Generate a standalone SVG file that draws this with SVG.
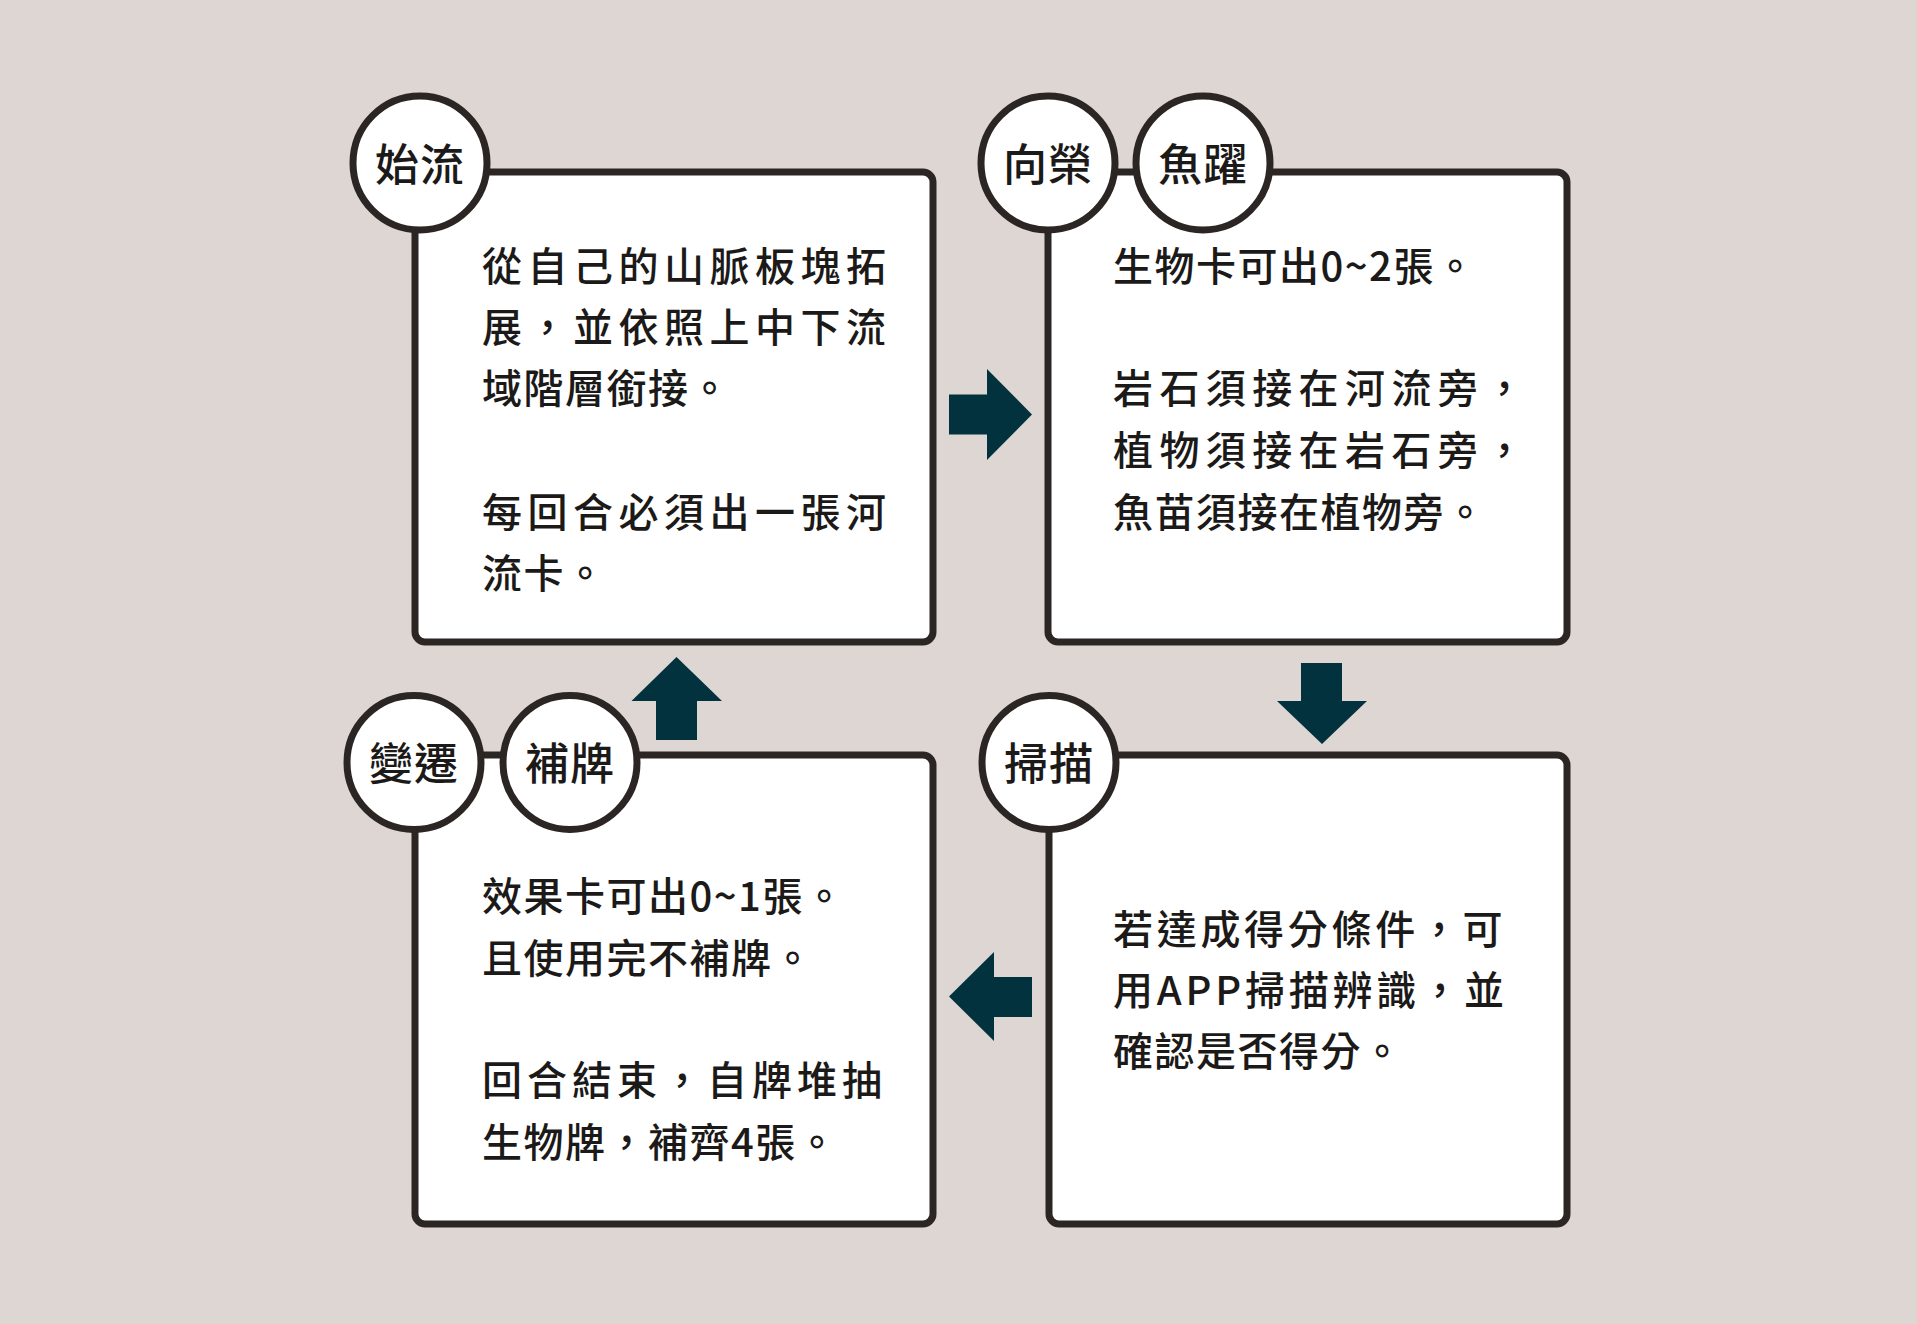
<svg xmlns="http://www.w3.org/2000/svg" width="1917" height="1324" viewBox="0 0 1917 1324">
<style>
.box{fill:#ffffff;stroke:#2b2523;stroke-width:7}
.ring{fill:#ffffff;stroke:#2b2523;stroke-width:7}
.lbl{font-family:"Noto Sans CJK TC","Noto Sans CJK SC",sans-serif;font-size:44px;font-weight:500;fill:#1c1a19;text-anchor:middle;letter-spacing:1px}
.t{font-family:"Noto Sans CJK TC","Noto Sans CJK SC",sans-serif;font-size:40px;font-weight:500;fill:#1c1a19;letter-spacing:1.5px}
.j55{letter-spacing:5.5px}
.j64{letter-spacing:6.4px}
.j50{letter-spacing:5px}
.j37{letter-spacing:3.7px}
.j40{letter-spacing:3.8px}
.arrow{fill:#03323f}
</style>
<rect width="1917" height="1324" fill="#ded6d3"/>
<g id="connectors">
<polygon class="arrow" points="949,394.5 987,394.5 987,369 1032,414.5 987,460 987,434.5 949,434.5"/>
<polygon class="arrow" points="1301,663 1342,663 1342,701 1367,701 1322,744 1277,701 1301,701"/>
<polygon class="arrow" points="1032,977 994,977 994,952 949,996.5 994,1041 994,1017 1032,1017"/>
<polygon class="arrow" points="656,740 697,740 697,701 722,701 676.5,657 631.5,701 656,701"/>
</g>
<g id="node-shiliu">
<rect class="box" x="415" y="172" width="518" height="470" rx="10"/>
<circle class="ring" cx="420" cy="163" r="67"/>
<text class="lbl" x="420" y="181">始流</text>
<text class="t j55" x="482" y="281">從自己的山脈板塊拓</text>
<text class="t j55" x="482" y="342">展，並依照上中下流</text>
<text class="t" x="482" y="403">域階層銜接。</text>
<text class="t j55" x="482" y="527">每回合必須出一張河</text>
<text class="t" x="482" y="588">流卡。</text>
</g>
<g id="node-xiangrong">
<rect class="box" x="1048" y="172" width="519" height="470" rx="10"/>
<circle class="ring" cx="1048" cy="163" r="67"/>
<circle class="ring" cx="1203" cy="163" r="67"/>
<text class="lbl" x="1048" y="181">向榮</text>
<text class="lbl" x="1203" y="181">魚躍</text>
<text class="t" x="1113" y="281">生物卡可出0~2張。</text>
<text class="t j64" x="1113" y="403">岩石須接在河流旁，</text>
<text class="t j64" x="1113" y="465">植物須接在岩石旁，</text>
<text class="t" x="1113" y="527">魚苗須接在植物旁。</text>
</g>
<g id="node-saomiao">
<rect class="box" x="1049" y="755" width="518" height="469" rx="10"/>
<circle class="ring" cx="1049" cy="762.5" r="67"/>
<text class="lbl" x="1049" y="780">掃描</text>
<text class="t j37" x="1113" y="944">若達成得分條件，可</text>
<text class="t j40" x="1113" y="1005">用APP掃描辨識，並</text>
<text class="t" x="1113" y="1066">確認是否得分。</text>
</g>
<g id="node-bianqian">
<rect class="box" x="415" y="755" width="518" height="469" rx="10"/>
<circle class="ring" cx="414" cy="762.5" r="67"/>
<circle class="ring" cx="570" cy="762.5" r="67"/>
<text class="lbl" x="414" y="780">變遷</text>
<text class="lbl" x="570" y="780">補牌</text>
<text class="t" x="482" y="911">效果卡可出0~1張。</text>
<text class="t" x="482" y="973">且使用完不補牌。</text>
<text class="t j50" x="482" y="1095">回合結束，自牌堆抽</text>
<text class="t" x="482" y="1157">生物牌，補齊4張。</text>
</g>
</svg>
